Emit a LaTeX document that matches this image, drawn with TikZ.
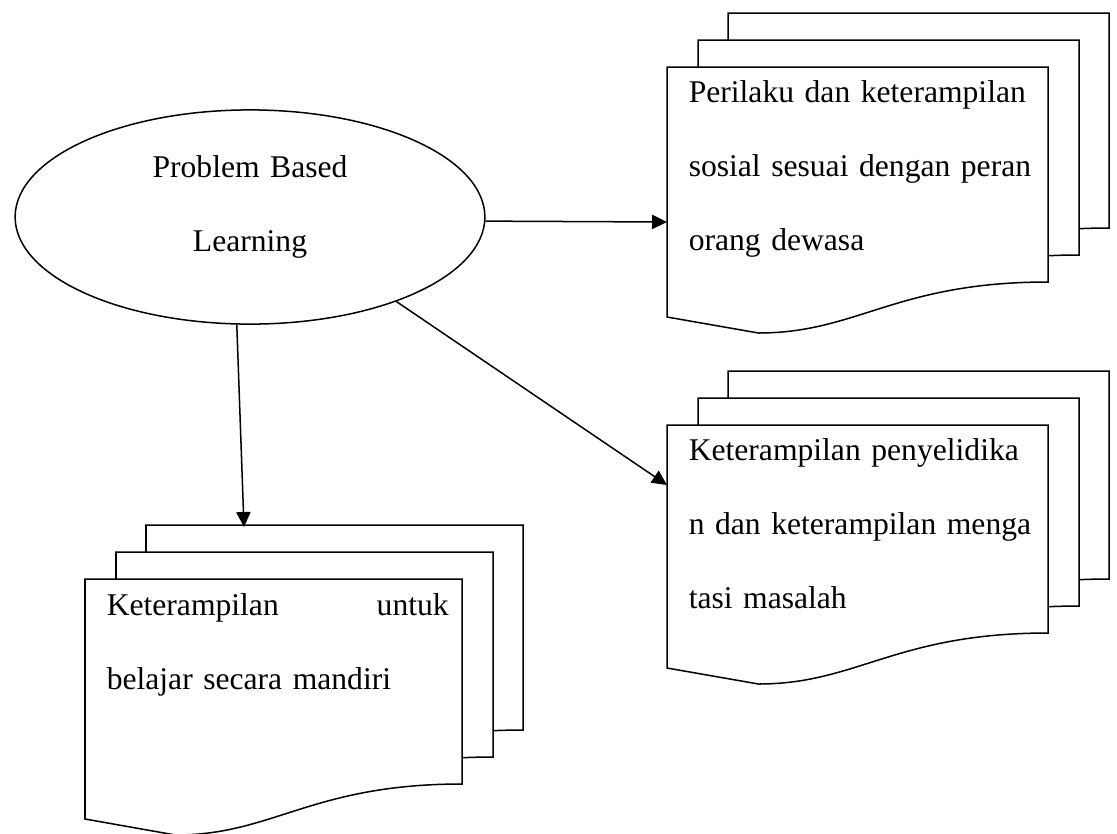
\documentclass[tikz,border=0pt]{standalone}
\usepackage{fontspec}
\setmainfont{Liberation Serif}
\usetikzlibrary{shapes.geometric,arrows.meta}

% one sheet with a wavy bottom: x, y (top left), width, height
\newcommand{\docsheet}[4]{%
  \begin{scope}[shift={(#1,#2)}]
    \draw[sheet] (0,0) -- (#3,0) -- (#3,#4)
      .. controls ({0.6*#3},#4) and ({0.5*#3},{#4+51}) .. ({0.24*#3},{#4+51})
      -- (0,{#4+35}) -- cycle;
  \end{scope}}
% three sheets, back to front
\newcommand{\docstack}[4]{%
  \foreach \dx/\dy in {61/-54,31/-27,0/0}{\docsheet{{#1+\dx}}{{#2+\dy}}{#3}{#4}}}

\begin{document}
\begin{tikzpicture}[x=0.014cm, y=-0.014cm, line width=0.6pt,
  font=\fontsize{12.6pt}{29.5pt}\selectfont,
  sheet/.style={draw, fill=white},
  link/.style={-{Triangle[length=0.21cm,width=0.2cm]}},
  txt/.style={anchor=base west, inner sep=0pt, align=left, text width=5cm}]
\useasboundingbox (0,0) rectangle (1117,833);

\docstack{667}{67}{381}{215}
\docstack{667}{425}{381}{208}
\docstack{85}{579}{377}{205}

\node[draw, ellipse, minimum width=6.58cm, minimum height=3cm, inner sep=0pt] (pbl) at (250,217) {};
\node[anchor=base, inner sep=0pt, align=center, text width=4cm] (pbltext) at (250,177) {Problem Based\\Learning};

\node[txt] (sosial) at (688,102) {Perilaku dan keterampilan\\sosial sesuai dengan peran\\orang dewasa};
\node[txt] (selidik) at (688,460) {Keterampilan penyelidika\\n dan keterampilan menga\\tasi masalah};
\node[txt, text width=4.79cm] (mandiri) at (106,615) {Keterampilan \hfill untuk\\belajar secara mandiri};

\coordinate (sosialin) at (667,222);
\coordinate (selidikin) at (667,485);
\coordinate (mandiriin) at (244,527);
\draw[link] (pbl.-1) -- (sosialin);
\draw[link] (pbl.-30) -- (selidikin);
\draw[link] (pbl.-97) -- (mandiriin);
\end{tikzpicture}
\end{document}
